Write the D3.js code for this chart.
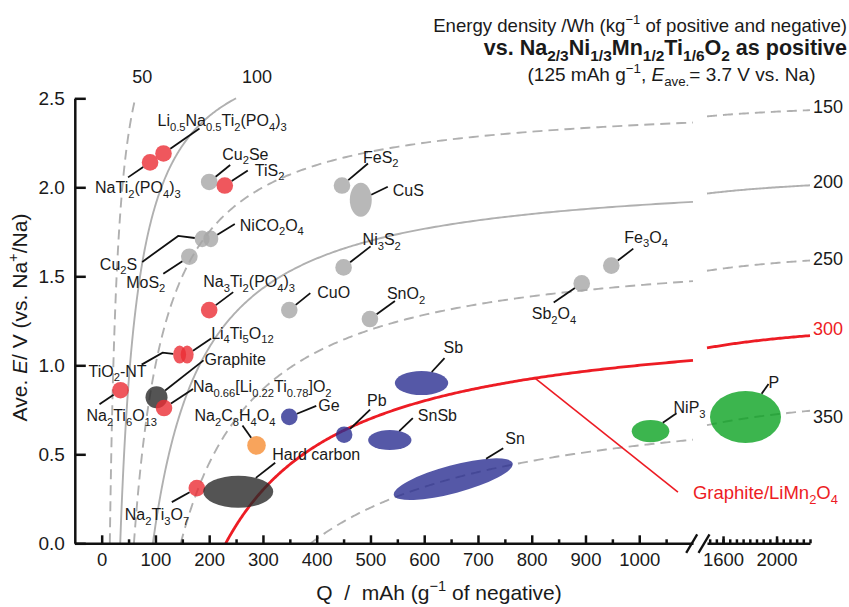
<!DOCTYPE html>
<html>
<head>
<meta charset="utf-8">
<script src="https://cdn.jsdelivr.net/npm/d3@7"></script>
<style>
  body { margin: 0; background: #fff; }
  svg { display: block; }
  text { font-family: "Liberation Sans", Arial, Helvetica, sans-serif; fill: #1a1a1a; white-space: pre; }
</style>
</head>
<body>
<svg id="chart" width="849" height="607"></svg>
<script>
// positive electrode given in the header: Na2/3Ni1/3Mn1/2Ti1/6O2
const posCapacity = 125;   // mAh g-1
const posVoltage = 3.7;    // V vs. Na
const energyLevels = [50, 100, 150, 200, 250, 300, 350];
const dashedLevels = [50, 150, 250, 350];

const xMajor = [0, 100, 200, 300, 400, 500, 600, 700, 800, 900, 1000];
const xMinor = [50, 150, 250, 350, 450, 550, 650, 750, 850, 950, 1050];
const xRightMajor = [1600, 2000];
const xRightMinor = d3.range(1500, 2251, 50);
const yTicks = [0, 0.5, 1.0, 1.5, 2.0, 2.5];

// negative electrode materials
const materials = [
  "NaTi_{2}(PO_{4})_{3}", "Li_{0.5}Na_{0.5}Ti_{2}(PO_{4})_{3}", "Cu_{2}Se", "TiS_{2}", "FeS_{2}",
  "CuS", "Cu_{2}S", "NiCO_{2}O_{4}", "MoS_{2}", "Na_{3}Ti_{2}(PO_{4})_{3}",
  "CuO", "Ni_{3}S_{2}", "SnO_{2}", "Fe_{3}O_{4}", "Sb_{2}O_{4}",
  "TiO_{2}-NT", "Li_{4}Ti_{5}O_{12}", "Na_{2}Ti_{6}O_{13}", "Graphite", "Na_{0.66}[Li_{0.22}Ti_{0.78}]O_{2}",
  "Ge", "Na_{2}C_{8}H_{4}O_{4}", "Pb", "SnSb", "Sb",
  "Sn", "Na_{2}Ti_{3}O_{7}", "Hard carbon", "NiP_{3}", "P"
];
const capacity = [
  90, 115, 200, 229, 447,
  482, 187, 203, 163, 200,
  349, 450, 499, 948, 893,
  145, 159, 35, 102, 116,
  349, 288, 451, 536, 595,
  654, 177, 254, 1021, 1768
];
const voltage = [
  2.14, 2.19, 2.03, 2.01, 2.01,
  1.93, 1.71, 1.71, 1.61, 1.31,
  1.31, 1.55, 1.26, 1.56, 1.46,
  1.06, 1.06, 0.86, 0.82, 0.76,
  0.71, 0.55, 0.61, 0.58, 0.90,
  0.36, 0.31, 0.29, 0.63, 0.71
];
const kind = [
  "ti", "ti", "conv", "ti", "conv",
  "conv", "conv", "conv", "conv", "ti",
  "conv", "conv", "conv", "conv", "conv",
  "ti", "ti", "ti", "carbon", "ti",
  "alloy", "organic", "alloy", "alloy", "alloy",
  "alloy", "ti", "carbon", "phos", "phos"
];
const referenceCell = { name: "Graphite/LiMn_{2}O_{4}", energy: 300, q: 806 };

// ---- layout / style ----
const colors = {
  ti: "#eb2d35", conv: "#a6a6a6", carbon: "#292929",
  alloy: "#2a2e91", phos: "#0ba222", organic: "#f68d33"
};
// [rx, ry, rotation] in px, default circle
const markerSize = {
  "CuS": [11, 17], "Cu_{2}S": [7.5, 8.3], "NiCO_{2}O_{4}": [7.5, 8.3],
  "TiO_{2}-NT": [6.5, 9], "Li_{4}Ti_{5}O_{12}": [6.5, 9], "Graphite": [11, 11],
  "Na_{2}C_{8}H_{4}O_{4}": [9.3, 9.3], "SnSb": [21.7, 10], "Sb": [26.7, 12],
  "Sn": [61.5, 14, -15], "Hard carbon": [35, 16], "NiP_{3}": [18.8, 11.2], "P": [35.5, 26]
};
const defaultSize = [8.3, 8.3];
// leader end dx,dy / text dx,dy / anchor / optional elbow dx,dy  (px from marker centre)
const labelLayout = [
  [-22, 15, -55, 31, "start"], [36, -25, -6, -27, "start"], [21, -17, 13, -22, "start"],
  [23, -15, 30, -10, "start"], [26, -22, 21, -23, "start"],
  [27, -13, 32, -4, "start"], [-60, 23, -65, 31, "end", -24, -3], [24, -15, 29, -8, "start"],
  [-26, 17, -24, 31, "end"], [24, -18, -6, -23, "start"],
  [21, -17, 28, -12, "start"], [27, -21, 19, -22, "start"], [25, -18, 17, -20, "start"],
  [22, -17, 13, -23, "start"], [-28, 19, -50, 36, "start"],
  [-38, 10, -33, 22, "end", -17, -2], [24, -16, 24, -16, "start"], [-21, 14, -34, 31, "start"],
  [47, -37, 48, -32, "start"], [29, -19, 29, -16, "start"],
  [27, -11, 29, -5.5, "start"], [-14, -20, -62, -24, "start"], [26, -25, 23, -29, "start"],
  [23, -22, 28, -19, "start"], [23, -25, 22, -30, "start"],
  [50, -31, 52, -35, "start"], [-25, 14, -72, 32, "start"], [37, -29, 34, -32, "start"],
  [26, -18, 23, -18, "start"], [23, -33, 23, -29, "start"]
];
const topLabelDx = { 50: 7, 100: 21 };
const rightLabelDy = { 150: 3, 200: 3, 250: 4.5, 300: -0.6, 350: 12.5 };

const svg = d3.select("#chart");
const xL = d3.scaleLinear().domain([-50, 1100]).range([74.8, 693]);
const xR = d3.scaleLinear().domain([1480, 2250]).range([707, 810]);
const y = d3.scaleLinear().domain([0, 2.5]).range([543.3, 98.3]);
const qx = q => q <= 1100 ? xL(q) : xR(q);

// text with _{sub}, ^{sup}, *italic*
function rich(sel, str, size, ratio = 0.7) {
  const parts = str.split(/(_\{[^}]*\}|\^\{[^}]*\}|\*[^*]*\*)/g).filter(s => s !== "");
  let shift = 0;
  parts.forEach(p => {
    let t = p, dy = 0, small = false, it = false;
    if (p.startsWith("_{")) { t = p.slice(2, -1); dy = size * 0.28; small = true; }
    else if (p.startsWith("^{")) { t = p.slice(2, -1); dy = -size * 0.42; small = true; }
    else if (p.startsWith("*")) { t = p.slice(1, -1); it = true; }
    const ts = sel.append("tspan").text(t);
    if (dy - shift !== 0) ts.attr("dy", dy - shift);
    shift = dy;
    if (small) ts.attr("font-size", size * ratio);
    if (it) ts.attr("font-style", "italic");
  });
  return sel;
}

// ---- iso-energy curves ----
const vAt = (E, q) => posVoltage - E * (posCapacity + q) / (posCapacity * q);
const line = d3.line().x(d => qx(d[0])).y(d => y(d[1]));
const curveG = svg.append("g");

function sampleQ(q0, q1, n) {
  return d3.range(n + 1).map(i => q0 * Math.pow(q1 / q0, i / n));
}

energyLevels.forEach(E => {
  const q0 = E / (posVoltage - E / posCapacity);
  const lim = posVoltage - 2.5 - E / posCapacity;
  const qTop = lim > 0 ? E / lim : Infinity;
  const red = E === 300;
  const stroke = red ? "#ed1c24" : "#b0b0b0";
  const segs = [sampleQ(q0, Math.min(qTop, 1100), 300)];
  if (qTop > 2250) segs.push(sampleQ(1480, 2250, 60));
  segs.forEach(s => {
    curveG.append("path")
      .attr("d", line(s.map(q => [q, vAt(E, q)])))
      .attr("fill", "none")
      .attr("stroke", stroke)
      .attr("stroke-width", red ? 2.8 : 1.9)
      .attr("stroke-dasharray", dashedLevels.includes(E) ? "10,6" : null);
  });
  if (qTop < 1100) {
    svg.append("text").attr("x", qx(qTop) + topLabelDx[E]).attr("y", y(2.5) - 15)
      .attr("text-anchor", "middle").attr("font-size", 18).text(E);
  } else {
    svg.append("text").attr("x", 813).attr("y", y(vAt(E, 2250)) + rightLabelDy[E])
      .attr("font-size", 18).style("fill", red ? "#ed1c24" : "#1a1a1a").text(E);
  }
});

// reference cell annotation
{
  const px = qx(referenceCell.q), py = y(vAt(referenceCell.energy, referenceCell.q));
  svg.append("line").attr("x1", px).attr("y1", py).attr("x2", px + 143).attr("y2", py + 114)
    .attr("stroke", "#ed1c24").attr("stroke-width", 1.6);
  rich(svg.append("text").attr("x", px + 158).attr("y", py + 121).attr("font-size", 18.5)
    .style("fill", "#ed1c24"), referenceCell.name, 18.5);
}

// ---- markers ----
function edge(rx, ry, rot, dx, dy) {
  const a = -rot * Math.PI / 180;
  const ux = dx * Math.cos(a) - dy * Math.sin(a);
  const uy = dx * Math.sin(a) + dy * Math.cos(a);
  const t = 1 / Math.sqrt((ux / rx) ** 2 + (uy / ry) ** 2);
  return [dx * t, dy * t];
}

const markG = svg.append("g");
const annG = svg.append("g");
materials.forEach((m, i) => {
  const cx = qx(capacity[i]), cy = y(voltage[i]);
  const [rx, ry, rot = 0] = markerSize[m] || defaultSize;
  markG.append("ellipse")
    .attr("cx", cx).attr("cy", cy).attr("rx", rx).attr("ry", ry)
    .attr("transform", rot ? `rotate(${rot},${cx},${cy})` : null)
    .attr("fill", colors[kind[i]]).attr("fill-opacity", 0.8);

  const [ex, ey, tx, ty, anchor, bx, by] = labelLayout[i];
  const pts = bx === undefined ? [[ex, ey]] : [[bx, by], [ex, ey]];
  const s = edge(rx, ry, rot, pts[0][0], pts[0][1]);
  const path = [[cx + s[0], cy + s[1]], ...pts.map(p => [cx + p[0], cy + p[1]])];
  annG.append("path").attr("d", d3.line()(path))
    .attr("fill", "none").attr("stroke", "#111").attr("stroke-width", 1.8);
  rich(annG.append("text").attr("x", cx + tx).attr("y", cy + ty)
    .attr("text-anchor", anchor).attr("font-size", 16), m, 16);
});

// ---- axes ----
const axisFont = g => g.attr("font-family", "Liberation Sans, Arial, sans-serif").attr("font-size", 18.5);
const styleAxis = g => {
  g.selectAll(".domain, line").attr("stroke", "#111").attr("stroke-width", 2.5);
  g.selectAll("text").style("fill", "#1a1a1a");
};

const gx = svg.append("g").attr("transform", `translate(0,${y(0)})`);
gx.call(d3.axisBottom(xL).tickValues(xMajor).tickSize(-8).tickSizeOuter(0).tickPadding(10).tickFormat(d3.format("d")))
  .call(axisFont).call(styleAxis);
gx.append("g").call(d3.axisBottom(xL).tickValues(xMinor).tickSize(-4).tickSizeOuter(0).tickFormat(""))
  .call(styleAxis).select(".domain").remove();

const gxr = svg.append("g").attr("transform", `translate(0,${y(0)})`);
gxr.call(d3.axisBottom(xR).tickValues(xRightMajor).tickSize(-7).tickSizeOuter(0).tickPadding(10).tickFormat(d3.format("d")))
  .call(axisFont).call(styleAxis);
gxr.append("g").call(d3.axisBottom(xR).tickValues(xRightMinor).tickSize(-4).tickSizeOuter(0).tickFormat(""))
  .call(styleAxis).select(".domain").remove();

// axis break marks
[xL.range()[1] - 1.3, xR.range()[0] - 3].forEach(bx => {
  svg.append("line").attr("x1", bx - 5.5).attr("y1", y(0) + 9.5).attr("x2", bx + 5.5).attr("y2", y(0) - 9)
    .attr("stroke", "#111").attr("stroke-width", 2.3);
});

const gy = svg.append("g").attr("transform", `translate(${xL(-50)},0)`);
gy.call(d3.axisLeft(y).tickValues(yTicks).tickSize(-11).tickSizeOuter(0).tickPadding(10).tickFormat(d3.format(".1f")))
  .call(axisFont).call(styleAxis);
gy.selectAll("text").attr("font-size", 19);

// axis titles
rich(svg.append("text").attr("x", 439).attr("y", 600).attr("text-anchor", "middle").attr("font-size", 21),
  "Q  /  mAh (g^{\u22121} of negative)", 21);
rich(svg.append("text").attr("transform", "translate(26.5,317.5) rotate(-90)")
  .attr("text-anchor", "middle").attr("font-size", 21),
  "Ave. *E*/ V (vs. Na^{+}/Na)", 21);

// header
rich(svg.append("text").attr("x", 847).attr("y", 32).attr("text-anchor", "end").attr("font-size", 18.6),
  "Energy density /Wh (kg^{\u22121} of positive and negative)", 18.6);
rich(svg.append("text").attr("x", 847).attr("y", 55).attr("text-anchor", "end").attr("font-size", 21.5)
  .attr("font-weight", "bold"),
  "vs. Na_{2/3}Ni_{1/3}Mn_{1/2}Ti_{1/6}O_{2} as positive", 21.5, 0.72);
rich(svg.append("text").attr("x", 671.5).attr("y", 80.7).attr("text-anchor", "middle").attr("font-size", 19),
  "(125 mAh g^{\u22121}, *E*_{ave.}= 3.7 V vs. Na)", 19);
</script>
</body>
</html>
